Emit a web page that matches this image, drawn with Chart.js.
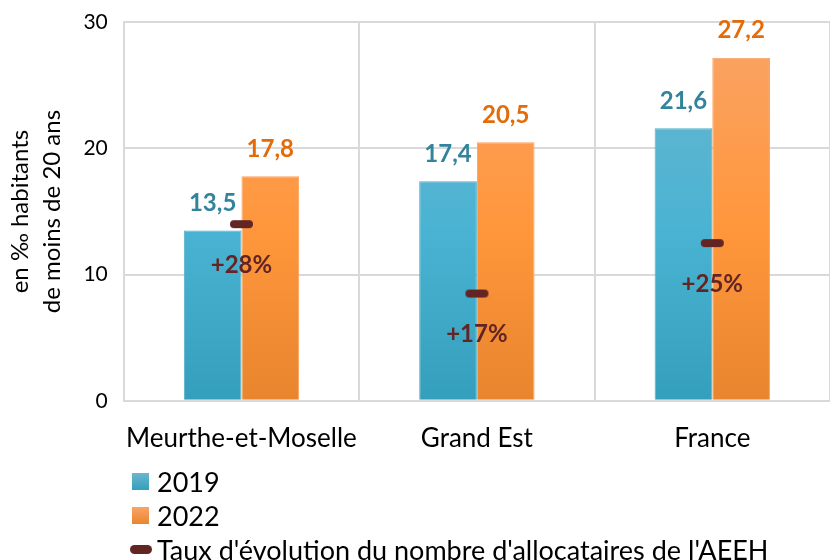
<!DOCTYPE html>
<html lang="fr">
<head>
<meta charset="utf-8">
<script src="https://cdn.jsdelivr.net/npm/chart.js@4/dist/chart.umd.min.js"></script>
<style>
    html, body { margin: 0; padding: 0; background: #fff; }
    #wrap { position: relative; width: 830px; height: 560px; }
    #legend { position: absolute; left: 130px; top: 464px; font-family: Lato, sans-serif; font-size: 27px; color: #000; }
    #legend .item { display: flex; align-items: center; height: 34px; }
    #legend .box { width: 17px; height: 17px; margin: 0 8px 0 2px; }
    #legend .dash { width: 22px; height: 9px; border-radius: 4.5px; background: #632523; margin: 0 5px 0 0; }
</style>
</head>
<body>
<div id="wrap">
    <canvas id="chart" width="830" height="560"></canvas>
    <div id="legend"></div>
</div>
<script>
// --- Data ---
const categories = ['Meurthe-et-Moselle', 'Grand Est', 'France'];
const values2019 = [13.5, 17.4, 21.6];
const values2022 = [17.8, 20.5, 27.2];
const evolution = [28, 17, 25];          // % d'évolution des allocataires AEEH
const yTicks = [0, 10, 20, 30];

const seriesLabels = ['2019', '2022', "Taux d'évolution du nombre d'allocataires de l'AEEH"];

// Colours
const blueText = '#31849B';
const orangeText = '#E36C09';
const evoColor = '#632523';
const gridColor = '#D9D9D9';
const font = 'Lato, sans-serif';

const fmt = v => v.toFixed(1).replace('.', ',');

// Rounded dash used as marker for the evolution series
const dash = document.createElement('canvas');
dash.width = 25; dash.height = 10;
(() => {
    const c = dash.getContext('2d');
    c.fillStyle = evoColor;
    c.beginPath();
    c.roundRect(1, 1, 23, 8, 4);
    c.fill();
})();

function barGradient(stops) {
    return (ctx) => {
        const area = ctx.chart.chartArea;
        if (!area) return stops[1];
        const g = ctx.chart.ctx.createLinearGradient(0, area.top, 0, area.bottom);
        g.addColorStop(0, stops[0]);
        g.addColorStop(0.55, stops[1]);
        g.addColorStop(1, stops[2]);
        return g;
    };
}

// Value labels above bars and below the evolution markers
const labelPlugin = {
    id: 'valueLabels',
    afterDatasetsDraw(chart) {
        const ctx = chart.ctx;
        ctx.save();
        ctx.textAlign = 'center';
        ctx.textBaseline = 'middle';
        ctx.font = 'bold 24px ' + font;
        chart.data.datasets.forEach((ds, i) => {
            const meta = chart.getDatasetMeta(i);
            meta.data.forEach((el, j) => {
                if (ds.type === 'line') {
                    ctx.fillStyle = evoColor;
                    ctx.fillText('+' + ds.data[j] + '%', el.x, el.y + 41);
                } else {
                    ctx.fillStyle = ds.label === seriesLabels[0] ? blueText : orangeText;
                    ctx.fillText(fmt(ds.data[j]), el.x, el.y - 27);
                }
            });
        });
        ctx.restore();
    }
};

const chart = new Chart(document.getElementById('chart'), {
    data: {
        labels: categories,
        datasets: [
            {
                type: 'line',
                label: seriesLabels[2],
                data: evolution,
                yAxisID: 'y2',
                showLine: false,
                pointStyle: dash,
                pointRadius: 12,
                order: 0
            },
            {
                type: 'bar',
                label: seriesLabels[0],
                data: values2019,
                backgroundColor: barGradient(['#6CB6CE', '#4AB3D3', '#349FBC']),
                borderColor: '#4BACC6',
                borderWidth: 1,
                categoryPercentage: 0.49,
                barPercentage: 1,
                order: 1
            },
            {
                type: 'bar',
                label: seriesLabels[1],
                data: values2022,
                backgroundColor: barGradient(['#F9A468', '#FF963B', '#E8852E']),
                borderColor: '#F9A15F',
                borderWidth: 1,
                categoryPercentage: 0.49,
                barPercentage: 1,
                order: 1
            }
        ]
    },
    options: {
        responsive: false,
        animation: false,
        layout: { autoPadding: false, padding: { top: 0, right: 0, bottom: 84, left: 0 } },
        plugins: {
            legend: { display: false },
            tooltip: { enabled: false }
        },
        scales: {
            x: {
                grid: { color: gridColor, lineWidth: 2, offset: true, drawTicks: false },
                border: { color: gridColor, width: 2 },
                ticks: {
                    color: '#000',
                    font: { family: font, size: 26 },
                    padding: 22,
                    maxRotation: 0,
                    autoSkip: false
                }
            },
            y: {
                min: 0,
                max: 30,
                afterBuildTicks: (axis) => { axis.ticks = yTicks.map(v => ({ value: v })); },
                grid: { color: gridColor, lineWidth: 2, drawTicks: false },
                border: { color: gridColor, width: 2 },
                ticks: { color: '#000', font: { family: font, size: 21, lineHeight: 0.6 }, padding: 16 },
                title: {
                    display: true,
                    text: ['en ‰ habitants', 'de moins de 20 ans'],
                    color: '#000',
                    font: { family: font, size: 24, lineHeight: 1.3 },
                    padding: { top: 5, bottom: 0 }
                }
            },
            y2: {
                display: false,
                min: 0,
                max: 60
            }
        }
    },
    plugins: [labelPlugin]
});

// --- HTML legend ---
const legend = document.getElementById('legend');
[
    { text: seriesLabels[0], cls: 'box', bg: 'linear-gradient(#6CB6CE, #349FBC)' },
    { text: seriesLabels[1], cls: 'box', bg: 'linear-gradient(#F9A468, #E8852E)' },
    { text: seriesLabels[2], cls: 'dash', bg: evoColor }
].forEach(it => {
    const row = document.createElement('div');
    row.className = 'item';
    const sw = document.createElement('span');
    sw.className = it.cls;
    sw.style.background = it.bg;
    const tx = document.createElement('span');
    tx.textContent = it.text;
    row.appendChild(sw);
    row.appendChild(tx);
    legend.appendChild(row);
});
</script>
</body>
</html>
